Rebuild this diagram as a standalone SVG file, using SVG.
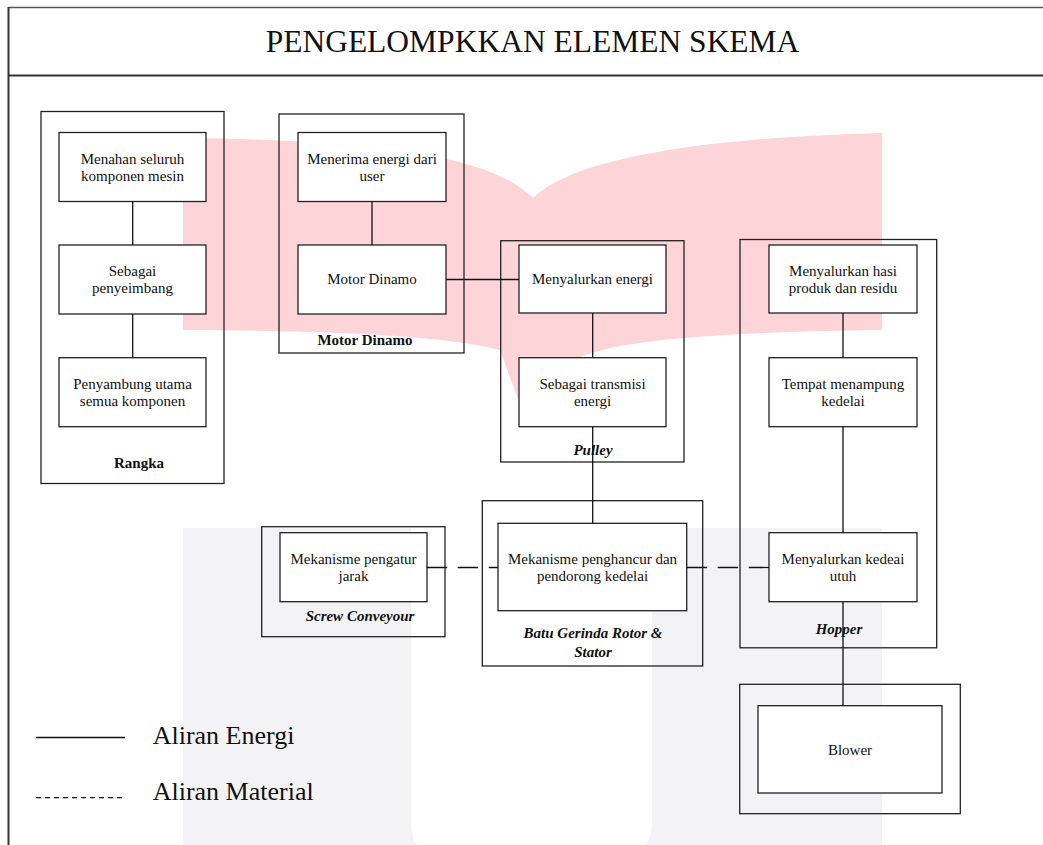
<svg xmlns="http://www.w3.org/2000/svg" width="1043" height="845" viewBox="0 0 1043 845">
<style>
.t{font-family:"Liberation Serif","Times New Roman",serif;font-size:15px;text-anchor:middle;fill:#111}
.lb{font-weight:bold}
.li{font-weight:bold;font-style:italic}
.box{fill:#fff;stroke:#222;stroke-width:1.3}
.grp{fill:none;stroke:#222;stroke-width:1.3}
.e{stroke:#111;stroke-width:1.3;fill:none}
.m{stroke:#111;stroke-width:1.3;fill:none;stroke-dasharray:20.5 10.5}
.leg{font-family:"Liberation Serif","Times New Roman",serif;font-size:26px;fill:#111}
</style>
<rect x="0" y="0" width="1043" height="845" fill="#fff"/>
<g id="watermark">
<path d="M183,138 C400,140 495,160 533,198 C575,158 700,138 882,133 L882,330 C720,332 610,340 575,360 L528,426 L500,350 C440,335 330,331 183,330 Z" fill="#fdd5d8"/>
<path d="M183,528 L411,528 L411,820 Q411,845 420,845 L183,845 Z" fill="#f3f3f5"/>
<path d="M652,528 L882,528 L882,845 L645,845 Q652,840 652,820 Z" fill="#f3f3f5"/>
</g>
<g id="frame">
<line x1="8.5" y1="7.5" x2="1043" y2="7.5" stroke="#555" stroke-width="1.5"/>
<line x1="8.5" y1="7" x2="8.5" y2="845" stroke="#333" stroke-width="2"/>
<line x1="8" y1="75.5" x2="1043" y2="75.5" stroke="#333" stroke-width="2"/>
<text x="532.5" y="52" style="font-family:'Liberation Serif','Times New Roman',serif;font-size:31.5px;fill:#111" text-anchor="middle">PENGELOMPKKAN ELEMEN SKEMA</text>
</g>
<g id="rangka">
<rect class="grp" x="41" y="111.5" width="183" height="372"/>
<rect class="box" x="59" y="132.5" width="147" height="69"/>
<text class="t" x="132.5" y="163.5">Menahan seluruh</text>
<text class="t" x="132.5" y="180.5">komponen mesin</text>
<rect class="box" x="59" y="245" width="147" height="69"/>
<text class="t" x="132.5" y="276">Sebagai</text>
<text class="t" x="132.5" y="293">penyeimbang</text>
<rect class="box" x="59" y="357.7" width="147" height="69"/>
<text class="t" x="132.5" y="389">Penyambung utama</text>
<text class="t" x="132.5" y="406">semua komponen</text>
<text class="t lb" x="139" y="468">Rangka</text>
</g>
<g id="motor-dinamo">
<rect class="grp" x="279" y="114" width="185" height="239"/>
<rect class="box" x="298" y="132.5" width="148" height="69"/>
<text class="t" x="372" y="163.5">Menerima energi dari</text>
<text class="t" x="372" y="180.5">user</text>
<rect class="box" x="298" y="245" width="148" height="69"/>
<text class="t" x="372" y="284">Motor Dinamo</text>
<text class="t lb" x="365" y="345">Motor Dinamo</text>
</g>
<g id="pulley">
<rect class="grp" x="500.7" y="240.7" width="183.3" height="221.3"/>
<rect class="box" x="519" y="245" width="147" height="68"/>
<text class="t" x="592.5" y="284">Menyalurkan energi</text>
<rect class="box" x="519" y="357.7" width="147" height="69"/>
<text class="t" x="592.5" y="389">Sebagai transmisi</text>
<text class="t" x="592.5" y="406">energi</text>
<text class="t li" x="593" y="455">Pulley</text>
</g>
<g id="hopper">
<rect class="grp" x="740" y="239.5" width="196.7" height="408.3"/>
<rect class="box" x="769" y="245" width="148" height="68"/>
<text class="t" x="843" y="276">Menyalurkan hasi</text>
<text class="t" x="843" y="293">produk dan residu</text>
<rect class="box" x="769" y="357.7" width="148" height="69"/>
<text class="t" x="843" y="389">Tempat menampung</text>
<text class="t" x="843" y="406">kedelai</text>
<rect class="box" x="769" y="532.7" width="148" height="69"/>
<text class="t" x="843" y="563.5">Menyalurkan kedeai</text>
<text class="t" x="843" y="580.5">utuh</text>
<text class="t li" x="839" y="634">Hopper</text>
</g>
<g id="screw-conveyour">
<rect class="grp" x="261.7" y="526.7" width="183.3" height="110"/>
<rect class="box" x="280" y="532.7" width="147" height="69"/>
<text class="t" x="353.5" y="564">Mekanisme pengatur</text>
<text class="t" x="353.5" y="581">jarak</text>
<text class="t li" x="360" y="621">Screw Conveyour</text>
</g>
<g id="batu-gerinda">
<rect class="grp" x="482.3" y="500.7" width="220.4" height="165.3"/>
<rect class="box" x="498" y="523.3" width="188.7" height="87.4"/>
<text class="t" x="592.5" y="564">Mekanisme penghancur dan</text>
<text class="t" x="592.5" y="581">pendorong kedelai</text>
<text class="t li" x="593" y="638">Batu Gerinda Rotor &amp;</text>
<text class="t li" x="593" y="656.5">Stator</text>
</g>
<g id="blower">
<rect class="grp" x="739.7" y="684.3" width="220.6" height="129.4"/>
<rect class="box" x="758" y="705.7" width="184" height="87.3"/>
<text class="t" x="850" y="755">Blower</text>
</g>
<g id="connectors">
<line class="e" x1="132.7" y1="201.5" x2="132.7" y2="245"/>
<line class="e" x1="132.7" y1="314" x2="132.7" y2="357.7"/>
<line class="e" x1="372" y1="201.5" x2="372" y2="245"/>
<line class="e" x1="446" y1="279.5" x2="519" y2="279.5"/>
<line class="e" x1="592.7" y1="313" x2="592.7" y2="357.7"/>
<line class="e" x1="592.7" y1="426.7" x2="592.7" y2="523.3"/>
<line class="e" x1="843" y1="313" x2="843" y2="357.7"/>
<line class="e" x1="843" y1="426.7" x2="843" y2="532.7"/>
<line class="e" x1="843" y1="601.7" x2="843" y2="705.7"/>
<line class="m" x1="426.7" y1="567.5" x2="498" y2="567.5"/>
<line class="m" x1="686.7" y1="567.5" x2="769" y2="567.5"/>
</g>
<g id="legend">
<line class="e" x1="36" y1="737.5" x2="125" y2="737.5"/>
<text class="leg" x="152.7" y="743.5">Aliran Energi</text>
<line x1="36" y1="797.7" x2="125" y2="797.7" stroke="#111" stroke-width="1.2" stroke-dasharray="5 4"/>
<text class="leg" x="152.7" y="800">Aliran Material</text>
</g>
</svg>
